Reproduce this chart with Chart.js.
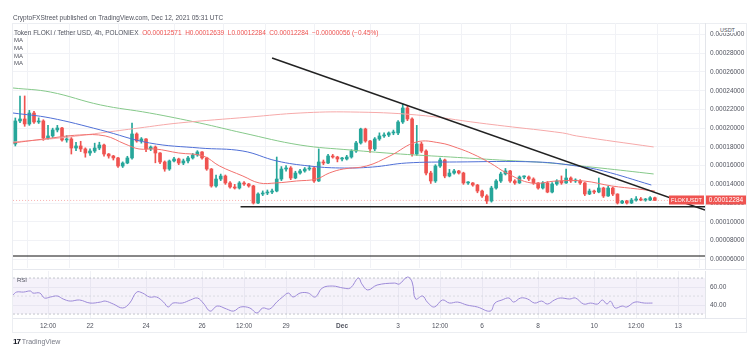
<!DOCTYPE html>
<html>
<head>
<meta charset="utf-8">
<script src="https://cdn.jsdelivr.net/npm/chart.js@4.4.0/dist/chart.umd.min.js"></script>
<style>
  body { margin: 0; background: #fff; width: 754px; height: 364px; overflow: hidden; font-family: "Liberation Sans", Arial, sans-serif; }
  canvas { position: absolute; left: 0; top: 0; }
  .txt { position: absolute; white-space: nowrap; color: #50535e; }
  .frame { position: absolute; left: 12px; top: 23px; width: 733px; height: 308px; border: 1px solid #eceef2; }
  .sep { position: absolute; left: 13px; width: 733px; height: 1px; background: #e6e8ee; }
</style>
</head>
<body>
<div class="frame"></div>
<div class="sep" style="top:269px"></div>
<div class="sep" style="top:318px"></div>
<canvas id="main" width="754" height="364"></canvas>
<canvas id="rsi" width="754" height="364"></canvas>

<div class="txt" style="left:13px;top:14px;font-size:6.5px;">CryptoFXStreet published on TradingView.com, Dec 12, 2021 05:31 UTC</div>
<div class="txt" style="left:14px;top:29px;font-size:6.5px;">Token FLOKI / Tether USD, 4h, POLONIEX&nbsp;
  <span style="color:#ef5350">O0.00012571&nbsp; H0.00012639&nbsp; L0.00012284&nbsp; C0.00012284&nbsp; −0.00000056 (−0.45%)</span></div>
<div class="txt" style="left:14px;top:37px;font-size:6px;">MA</div>
<div class="txt" style="left:14px;top:45px;font-size:6px;">MA</div>
<div class="txt" style="left:14px;top:53px;font-size:6px;">MA</div>
<div class="txt" style="left:14px;top:60px;font-size:6px;">MA</div>
<div class="txt" style="left:17px;top:277px;font-size:6px;">RSI</div>
<div class="txt" style="left:719px;top:27px;font-size:5.5px;background:#fff;padding:0 1px;">USDT</div>
<div class="txt" style="left:13px;top:337px;font-size:7px;color:#131722;"><b style="font-size:8px;letter-spacing:-1px">17</b>&nbsp;<span style="color:#787b86">TradingView</span></div>

<script>
// 4h candles, hours counted from Nov 19 00:00 UTC; prices in units of 0.00001 USDT
const firstCandleHour = 8;
const candleStep = 4;

const opens = [18.31, 20.77, 20.98, 20.45, 21.62, 20.66, 20.77, 18.95, 19.17, 19.81,
  20.02, 18.74, 18.85, 17.88, 18.10, 17.78, 17.35, 17.56, 17.88, 18.20,
  17.24, 17.03, 16.82, 15.96, 16.28, 16.82, 19.38, 18.63, 18.85, 17.78,
  17.99, 17.35, 16.39, 15.64, 16.50, 16.71, 16.28, 16.50, 16.82, 17.14,
  17.46, 16.82, 15.64, 13.83, 14.57, 14.89, 14.15, 13.72, 13.61, 14.15,
  14.04, 13.83, 12.01, 12.97, 13.08, 13.18, 13.29, 14.57, 15.64, 15.75,
  14.68, 15.21, 15.43, 15.64, 15.75, 14.36, 16.39, 16.28, 17.03, 16.92,
  16.71, 16.71, 16.92, 17.56, 18.42, 19.91, 18.63, 17.78, 18.85, 19.17,
  19.27, 19.49, 19.49, 20.66, 22.16, 20.98, 17.24, 18.31, 17.56, 15.21,
  14.36, 15.96, 16.60, 14.89, 15.21, 15.43, 15.21, 14.15, 14.15, 13.93,
  13.29, 12.76, 12.22, 13.61, 14.36, 15.11, 15.43, 14.36, 14.15, 14.79,
  14.79, 14.57, 14.15, 13.61, 14.15, 13.18, 14.04, 14.36, 14.15, 14.68,
  14.36, 14.36, 14.15, 12.97, 13.29, 13.18, 13.61, 12.76, 13.61, 12.97,
  12.01, 12.22, 12.01, 12.33, 12.44, 12.33, 12.33, 12.571];
const closes = [20.77, 20.98, 20.45, 21.62, 20.66, 20.77, 18.95, 19.17, 19.81, 20.02,
  18.74, 18.85, 17.88, 18.10, 17.78, 17.35, 17.56, 17.88, 18.20, 17.24,
  17.03, 16.82, 15.96, 16.28, 16.82, 19.38, 18.63, 18.85, 17.78, 17.99,
  17.35, 16.39, 15.64, 16.50, 16.71, 16.28, 16.50, 16.82, 17.14, 17.46,
  16.82, 15.64, 13.83, 14.57, 14.89, 14.15, 13.72, 13.61, 14.15, 14.04,
  13.83, 12.01, 12.97, 13.08, 13.18, 13.29, 14.57, 15.64, 15.75, 14.68,
  15.21, 15.43, 15.64, 15.75, 14.36, 16.39, 16.28, 17.03, 16.92, 16.71,
  16.71, 16.92, 17.56, 18.42, 19.91, 18.63, 17.78, 18.85, 19.17, 19.27,
  19.49, 19.49, 20.66, 22.16, 20.98, 17.24, 18.31, 17.56, 15.21, 14.36,
  15.96, 16.60, 14.89, 15.21, 15.43, 15.21, 14.15, 14.15, 13.93, 13.29,
  12.76, 12.22, 13.61, 14.36, 15.11, 15.43, 14.36, 14.15, 14.79, 14.79,
  14.57, 14.15, 13.61, 14.15, 13.18, 14.04, 14.36, 14.15, 14.68, 14.36,
  14.36, 14.15, 12.97, 13.29, 13.18, 13.61, 12.76, 13.61, 12.97, 12.01,
  12.22, 12.01, 12.33, 12.44, 12.33, 12.33, 12.571, 12.284];
const highs = [21.09, 23.44, 23.44, 21.9, 21.8, 21.1, 20.9, 20.3, 20.0, 20.3,
  20.1, 19.2, 19.0, 18.5, 18.6, 17.9, 17.8, 18.4, 18.5, 18.3,
  17.3, 17.1, 16.9, 16.4, 17.0, 20.55, 19.5, 19.0, 18.9, 18.1,
  18.1, 17.4, 16.5, 16.6, 16.9, 16.8, 16.7, 17.0, 17.3, 17.6,
  17.5, 16.9, 15.7, 15.0, 15.1, 15.0, 14.3, 14.0, 14.3, 14.3,
  14.1, 13.9, 13.1, 13.3, 13.4, 13.5, 16.92, 15.9, 16.0, 15.9,
  15.4, 15.6, 15.8, 16.0, 15.9, 17.78, 16.6, 17.2, 17.2, 17.0,
  16.9, 17.1, 17.7, 18.6, 20.0, 20.0, 18.7, 19.0, 19.5, 19.5,
  19.6, 19.8, 20.8, 22.58, 22.4, 21.1, 20.3, 18.5, 17.7, 15.4,
  16.1, 16.8, 16.7, 15.6, 15.6, 15.5, 15.3, 14.3, 14.2, 14.0,
  13.4, 12.9, 13.8, 14.5, 15.3, 15.7, 15.5, 14.5, 14.9, 14.9,
  14.9, 14.7, 14.2, 14.3, 14.3, 14.2, 14.5, 14.9, 15.64, 14.8,
  14.6, 14.5, 14.2, 13.5, 13.4, 14.68, 13.7, 13.8, 13.7, 13.0,
  12.3, 12.3, 12.5, 12.7, 12.6, 12.5, 12.7, 12.639];
const lows = [18.10, 20.6, 20.2, 20.3, 20.5, 20.5, 18.7, 18.8, 19.0, 19.6,
  18.6, 18.5, 17.24, 17.6, 17.5, 16.9, 17.1, 17.4, 17.7, 17.0,
  16.8, 16.6, 15.8, 15.8, 16.2, 16.7, 18.5, 18.4, 17.5, 17.6,
  16.3, 16.2, 15.4, 15.5, 16.4, 16.1, 16.1, 16.3, 16.7, 17.0,
  16.7, 15.5, 13.7, 13.7, 14.4, 14.0, 13.6, 13.5, 13.5, 13.9,
  13.7, 11.9, 11.95, 12.8, 12.9, 13.0, 13.2, 14.4, 15.4, 14.5,
  14.6, 15.1, 15.3, 15.5, 14.2, 14.3, 16.1, 16.2, 16.8, 16.4,
  16.5, 16.6, 16.8, 17.4, 18.3, 18.5, 17.4, 17.6, 18.7, 19.0,
  19.1, 19.3, 19.3, 20.5, 20.8, 17.0, 17.1, 17.4, 15.0, 14.1,
  14.2, 15.8, 14.7, 14.8, 15.1, 15.1, 14.0, 14.0, 13.8, 13.1,
  12.6, 11.95, 12.1, 13.5, 14.2, 15.0, 14.2, 14.0, 14.1, 14.6,
  14.4, 14.0, 13.5, 13.5, 13.1, 13.1, 13.9, 14.0, 14.1, 14.2,
  14.2, 14.0, 12.8, 12.9, 13.0, 13.1, 12.6, 12.7, 12.8, 11.9,
  11.95, 11.9, 11.95, 12.2, 12.25, 12.2, 12.25, 12.284];

// moving averages, sampled along the lines
const maFastHours = [6, 33, 63, 85, 102, 114, 128, 148, 169, 183, 203, 217, 231, 249, 266, 277, 289, 309, 329, 352, 372, 387, 400, 415, 429, 450, 472, 495, 519, 541, 556];
const maFast = [18.42, 18.85, 19.27, 19.17, 18.31, 17.78, 17.78, 17.35, 17.03, 15.96, 14.89, 14.15, 14.15, 14.36, 14.57, 15.21, 15.64, 15.96, 17.03, 18.53, 18.42, 17.88, 17.24, 16.28, 15.21, 14.15, 14.36, 14.36, 13.83, 13.51, 13.29];
const maMidHours = [6, 38, 81, 123, 166, 203, 232, 260, 286, 314, 343, 386, 455, 489, 512, 553];
const maMid = [21.62, 21.09, 19.81, 18.42, 17.88, 17.56, 16.50, 15.96, 15.75, 15.85, 16.28, 16.39, 16.39, 15.96, 15.43, 13.93];
const maSlowHours = [6, 38, 81, 123, 166, 203, 252, 295, 338, 381, 423, 466, 509, 555];
const maSlow = [24.29, 23.86, 22.48, 21.62, 20.55, 19.49, 18.20, 17.67, 17.24, 16.92, 16.60, 16.28, 15.75, 15.11];
const maLongHours = [6, 46, 81, 114, 148, 209, 252, 295, 352, 406, 427, 477, 489, 555];
const maLong = [18.52, 18.95, 19.49, 20.02, 20.55, 21.19, 21.62, 21.73, 21.41, 20.55, 20.23, 19.49, 19.17, 17.99];

// hand drawn lines
const trendHours = [228, 599];
const trendPrices = [27.50, 11.26];
const supportHours = [201, 599];
const supportPrice = 11.62;
const floorHours = [6, 599];
const floorPrice = 6.35;

// RSI(14)
const rsiHours = [6, 9, 15, 21, 23, 29, 33, 38, 44, 49, 55, 63, 72, 81, 85, 92, 100, 106, 112, 117,
  123, 129, 135, 139, 143, 151, 158, 164, 169, 175, 181, 189, 195, 201, 209, 215, 220, 226, 232, 237,
  242, 246, 252, 259, 265, 271, 280, 289, 295, 302, 305, 310, 318, 333, 337, 344, 348, 351, 357, 361,
  367, 374, 380, 387, 395, 404, 415, 419, 425, 431, 435, 441, 447, 453, 459, 464, 470, 475, 483, 488,
  495, 501, 507, 511, 515, 518, 522, 528, 532, 539, 547, 554];
const rsiValues = [51.1, 54.4, 54.4, 55.6, 53.3, 53.3, 47.8, 48.9, 50.0, 46.7, 44.4, 45.6, 42.2, 43.3, 44.4, 41.1, 36.7, 42.2, 54.4, 53.3,
  48.9, 48.9, 43.3, 37.8, 42.2, 42.2, 45.6, 47.8, 42.2, 33.3, 38.9, 35.6, 33.3, 37.8, 36.7, 31.1, 36.7, 35.6, 43.3, 48.9,
  53.3, 48.9, 53.3, 53.3, 48.9, 58.9, 61.1, 58.9, 58.9, 70.0, 63.3, 56.7, 62.2, 64.4, 63.3, 71.1, 65.6, 46.7, 50.0, 43.3,
  37.8, 45.6, 42.2, 43.3, 40.0, 37.8, 33.3, 42.2, 45.6, 47.8, 43.3, 47.8, 46.7, 42.2, 44.4, 41.1, 45.6, 47.8, 46.7, 47.8,
  41.1, 42.2, 41.1, 45.6, 41.1, 44.4, 36.7, 38.9, 37.8, 43.3, 42.2, 42.2];
const rsiLevels = [70, 50, 30];

// axes
const tickHours = [36, 72, 120, 168, 204, 240, 288, 336, 372, 408, 456, 504, 540, 576];
const tickLabels = ["12:00", "22", "24", "26", "12:00", "29", "Dec", "3", "12:00", "6", "8", "10", "12:00", "13"];
const priceTicks = [6, 8, 10, 12, 14, 16, 18, 20, 22, 24, 26, 28, 30];
const rsiTicks = [40, 60];

const UP = "#26a69a";
const DOWN = "#ef5350";
const GRID = "#f1f2f6";
const AXIS_FONT = { family: "Liberation Sans", size: 6.5 };
const X_MIN = 6, X_MAX = 599;

const candleHours = closes.map((c, i) => firstCandleHour + i * candleStep);
const candleColors = closes.map((c, i) => (c >= opens[i] ? UP : DOWN));
const lastClose = closes[closes.length - 1];

const toPoints = (xs, ys) => xs.map((x, i) => ({ x: x, y: ys[i] }));
const flat = (xs, v) => xs.map((x) => ({ x: x, y: v }));

const lastPriceTag = {
  id: "lastPriceTag",
  afterDraw(chart) {
    const { ctx, chartArea, scales } = chart;
    const y = Math.round(scales.y.getPixelForValue(lastClose));
    ctx.save();
    ctx.fillStyle = DOWN;
    ctx.fillRect(chartArea.right - 36, y - 4.5, 35, 9);
    ctx.fillRect(chartArea.right + 1, y - 4.5, 40, 9);
    ctx.fillStyle = "#fff";
    ctx.textAlign = "center";
    ctx.textBaseline = "middle";
    ctx.font = '5.5px "Liberation Sans"';
    ctx.fillText("FLOKIUSDT", chartArea.right - 18.5, y + 0.5);
    ctx.font = '6.5px "Liberation Sans"';
    ctx.fillText((lastClose * 1e-5).toFixed(8), chartArea.right + 21, y + 0.5);
    ctx.restore();
  },
};

const lineSet = (data, color, width, order, dash) => ({
  type: "line",
  data: data,
  borderColor: color,
  borderWidth: width,
  borderDash: dash || [],
  pointRadius: 0,
  tension: 0.4,
  fill: false,
  order: order,
});

new Chart(document.getElementById("main"), {
  type: "bar",
  data: {
    datasets: [
      lineSet(flat(floorHours, lastClose), "rgba(239,83,80,0.45)", 1, 9, [1, 2]),
      {
        data: candleHours.map((h, i) => ({ x: h, y: [lows[i], highs[i]] })),
        backgroundColor: candleColors,
        barThickness: 1,
        grouped: false,
        order: 8,
      },
      {
        data: candleHours.map((h, i) => ({ x: h, y: [opens[i], closes[i]] })),
        backgroundColor: candleColors,
        barThickness: 3,
        minBarLength: 1,
        grouped: false,
        order: 7,
      },
      lineSet(toPoints(maLongHours, maLong), "#f6a9a9", 1, 5),
      lineSet(toPoints(maSlowHours, maSlow), "#86c98a", 1, 5),
      lineSet(toPoints(maMidHours, maMid), "#4f6fd6", 1, 4),
      lineSet(toPoints(maFastHours, maFast), "#f2716e", 1, 3),
      { ...lineSet(toPoints(trendHours, trendPrices), "#222", 1.5, 1), tension: 0 },
      { ...lineSet(flat(supportHours, supportPrice), "#222", 1.5, 1), tension: 0 },
      { ...lineSet(flat(floorHours, floorPrice), "#111", 1, 1), tension: 0 },
    ],
  },
  options: {
    responsive: false,
    animation: false,
    layout: { padding: { top: 23, bottom: 96, left: 13, right: 8 } },
    plugins: { legend: { display: false }, tooltip: { enabled: false } },
    scales: {
      x: {
        type: "linear",
        min: X_MIN,
        max: X_MAX,
        offset: false,
        afterBuildTicks: (s) => { s.ticks = tickHours.map((v) => ({ value: v })); },
        afterFit: (s) => { s.height = 0; },
        ticks: { display: false },
        grid: { color: GRID, drawTicks: false },
        border: { display: false },
      },
      y: {
        position: "right",
        min: 5.07,
        max: 31.23,
        afterBuildTicks: (s) => { s.ticks = priceTicks.map((v) => ({ value: v })); },
        afterFit: (s) => { s.width = 41; },
        ticks: {
          font: AXIS_FONT,
          color: "#50535e",
          padding: 5,
          callback: (v) => (v * 1e-5).toFixed(8),
        },
        grid: { color: GRID, drawTicks: false },
        border: { color: "#e3e5ea" },
      },
    },
  },
  plugins: [lastPriceTag],
});

new Chart(document.getElementById("rsi"), {
  type: "line",
  data: {
    datasets: [
      lineSet(toPoints(rsiHours, rsiValues), "#9d8ad8", 1, 1),
      { ...lineSet(flat(floorHours, rsiLevels[0]), "#b4b7c0", 0.8, 2, [2, 2]), tension: 0 },
      { ...lineSet(flat(floorHours, rsiLevels[1]), "#d4d6dc", 0.8, 2, [2, 2]), tension: 0 },
      { ...lineSet(flat(floorHours, rsiLevels[2]), "#b4b7c0", 0.8, 2, [2, 2]), tension: 0,
        fill: 1, backgroundColor: "rgba(126,87,194,0.08)" },
    ],
  },
  options: {
    responsive: false,
    animation: false,
    layout: { padding: { top: 271, bottom: 32, left: 13, right: 8 } },
    plugins: { legend: { display: false }, tooltip: { enabled: false } },
    scales: {
      x: {
        type: "linear",
        min: X_MIN,
        max: X_MAX,
        afterBuildTicks: (s) => { s.ticks = tickHours.map((v) => ({ value: v })); },
        afterFit: (s) => { s.height = 14; },
        ticks: {
          autoSkip: false,
          maxRotation: 0,
          padding: 4,
          color: "#50535e",
          font: (c) => ({ family: "Liberation Sans", size: 6.5, weight: c.tick && c.tick.label === "Dec" ? "bold" : "normal" }),
          callback: (v, i) => tickLabels[i],
        },
        grid: { color: GRID, drawTicks: false },
        border: { display: false },
      },
      y: {
        position: "right",
        min: 25.6,
        max: 77.8,
        afterBuildTicks: (s) => { s.ticks = rsiTicks.map((v) => ({ value: v })); },
        afterFit: (s) => { s.width = 41; },
        ticks: { font: AXIS_FONT, color: "#50535e", padding: 5, callback: (v) => v.toFixed(2) },
        grid: { color: GRID, drawTicks: false },
        border: { color: "#e3e5ea" },
      },
    },
  },
});
</script>
</body>
</html>
